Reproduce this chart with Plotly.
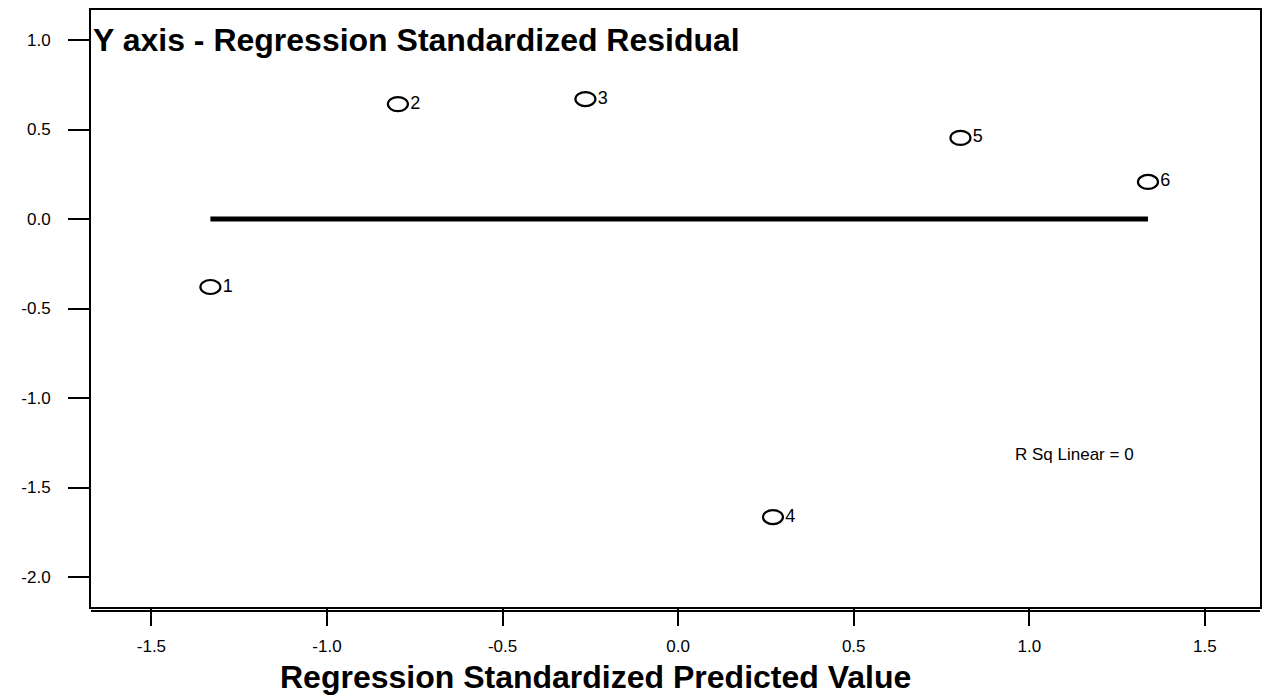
import plotly.graph_objects as go

# Case numbers and their standardized predicted values / residuals
case_labels = ["1", "2", "3", "4", "5", "6"]
pred_std = [-1.332, -0.798, -0.264, 0.270, 0.804, 1.338]
resid_std = [-0.380, 0.642, 0.670, -1.665, 0.453, 0.207]

# Linear fit of residual on predicted value (R Sq = 0 -> flat line at 0)
fit_x = [min(pred_std), max(pred_std)]
fit_y = [0.0, 0.0]
r_sq_text = "R Sq Linear = 0"

y_ticks = [1.0, 0.5, 0.0, -0.5, -1.0, -1.5, -2.0]
x_ticks = [-1.5, -1.0, -0.5, 0.0, 0.5, 1.0, 1.5]

FONT = "Arial, 'Liberation Sans', sans-serif"

fig = go.Figure()

fig.add_trace(go.Scatter(
    x=fit_x, y=fit_y, mode="lines",
    line=dict(color="black", width=5),
    hoverinfo="skip", showlegend=False,
))

fig.add_trace(go.Scatter(
    x=pred_std, y=resid_std, mode="markers+text",
    text=case_labels, textposition="middle right",
    textfont=dict(family=FONT, size=18, color="black"),
    marker=dict(size=18, color="rgba(0,0,0,0)"),
    showlegend=False,
))

# Open ellipse markers, anchored at each data point with pixel sizing
for px, py in zip(pred_std, resid_std):
    fig.add_shape(
        type="circle", xref="x", yref="y",
        xsizemode="pixel", ysizemode="pixel",
        xanchor=px, yanchor=py,
        x0=-10, x1=10, y0=-7, y1=7,
        line=dict(color="black", width=2.2),
        fillcolor="rgba(0,0,0,0)",
    )

# Second rule of the double line under the plot area
fig.add_shape(
    type="line", xref="paper", yref="paper",
    x0=0, x1=1, y0=-4 / 597, y1=-4 / 597,
    line=dict(color="black", width=2),
)

fig.add_annotation(
    text="<b>Y axis - Regression Standardized Residual</b>",
    xref="paper", yref="y", x=0, y=1.0, xanchor="left", yanchor="middle",
    xshift=0, showarrow=False,
    font=dict(family=FONT, size=32, color="black"),
)

fig.add_annotation(
    text="<b>Regression Standardized Predicted Value</b>",
    xref="paper", yref="paper", x=(596 - 91) / 1171, y=-(677 - 607) / 597,
    xanchor="center", yanchor="middle", showarrow=False,
    font=dict(family=FONT, size=32, color="black"),
)

fig.add_annotation(
    text=r_sq_text, xref="x", yref="y", x=1.128, y=-1.313,
    xanchor="center", yanchor="middle", showarrow=False,
    font=dict(family=FONT, size=17, color="black"),
)

fig.update_layout(
    width=1265, height=699,
    margin=dict(l=91, r=3, t=10, b=92),
    paper_bgcolor="white", plot_bgcolor="white",
    font=dict(family=FONT, size=17, color="black"),
    xaxis=dict(
        range=[-1.672, 1.657], tickvals=x_ticks,
        ticktext=[f"{v:.1f}" for v in x_ticks],
        showgrid=False, zeroline=False,
        showline=True, linecolor="black", linewidth=2, mirror=True,
        ticks="outside", ticklen=17, tickwidth=2, tickcolor="black",
        ticklabelstandoff=6,
    ),
    yaxis=dict(
        range=[-2.1676, 1.1676], tickvals=y_ticks,
        ticktext=[f"{v:.1f}" for v in y_ticks],
        showgrid=False, zeroline=False,
        showline=True, linecolor="black", linewidth=2, mirror=True,
        ticks="outside", ticklen=21, tickwidth=2, tickcolor="black",
        ticklabelstandoff=14,
    ),
)

fig.write_html("out.html")
